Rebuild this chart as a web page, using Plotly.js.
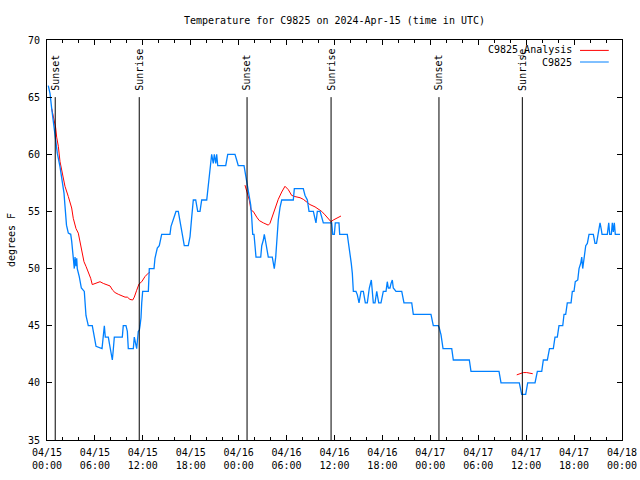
<!DOCTYPE html>
<html>
<head>
<meta charset="utf-8">
<script src="https://cdn.plot.ly/plotly-3.0.1.min.js"></script>
<style>html,body{margin:0;padding:0;background:#fff}#chart{width:640px;height:480px}</style>
</head>
<body>
<div id="chart"></div>
<script>
// Hours since 2024-04-15 00:00 UTC
const stationHours = [0.16,0.38,0.59,0.79,1.00,1.29,1.63,1.97,2.13,2.25,2.38,2.44,2.67,2.97,3.09,3.22,3.34,3.42,3.51,3.63,3.72,3.79,4.04,4.30,4.67,4.76,4.88,5.17,5.67,5.80,5.92,6.14,6.89,7.05,7.18,7.30,7.68,7.80,7.98,8.10,8.18,8.30,8.43,9.43,9.55,9.89,10.06,10.18,10.81,10.93,11.11,11.23,11.43,11.56,11.65,11.77,11.86,11.98,12.69,12.81,13.40,13.52,13.81,14.06,14.36,15.40,15.53,15.74,15.94,16.15,16.44,16.65,16.87,17.07,17.19,17.69,17.91,18.12,18.32,18.62,18.87,19.16,19.37,20.00,20.12,20.32,20.50,20.62,20.82,20.95,21.13,21.25,21.38,22.38,22.63,23.54,23.75,23.95,24.67,24.79,24.92,25.08,25.21,25.33,25.51,25.63,25.76,25.92,26.05,26.17,26.76,26.89,27.09,27.21,27.34,27.51,27.71,28.21,28.34,28.46,28.64,28.76,28.96,29.18,29.39,30.84,30.97,32.09,32.31,32.60,32.81,33.35,33.56,33.68,33.85,34.19,34.40,34.60,35.65,35.78,35.98,36.10,36.56,36.65,37.60,37.78,37.94,38.10,38.23,38.36,38.69,38.86,39.07,39.19,39.32,39.61,39.73,39.86,40.11,40.23,40.36,40.61,40.73,40.86,41.07,41.29,41.41,41.54,41.82,41.95,42.11,42.45,42.61,42.74,42.95,43.08,43.24,43.36,43.70,44.42,44.54,44.70,45.67,45.87,48.08,48.27,48.37,49.00,49.12,49.34,49.46,49.59,50.68,50.80,50.88,52.88,52.97,53.09,56.60,56.73,56.85,59.14,59.32,59.44,59.94,60.07,60.19,61.11,61.23,61.40,61.95,62.05,62.15,62.65,62.77,62.92,63.40,63.61,63.90,64.11,64.58,64.74,64.95,65.15,65.62,65.78,65.99,66.15,66.46,66.62,66.83,66.96,67.08,67.24,67.46,67.66,67.87,68.41,68.62,68.81,69.03,69.25,69.41,69.50,70.16,70.34,70.46,70.66,70.79,70.91,71.04,71.16,71.75];
const stationTemps = [66.0,65.3,64.0,63.0,61.9,60.1,58.9,57.5,56.6,55.5,54.7,53.8,53.1,53.0,52.4,51.5,50.6,50.0,51.0,50.2,50.9,50.0,49.3,48.3,48.0,47.0,45.9,45.0,45.0,44.5,44.0,43.2,43.0,44.0,45.0,44.0,44.0,43.5,42.9,42.4,42.0,42.9,44.0,44.0,45.0,45.0,44.5,43.0,43.0,44.0,43.5,43.0,44.5,44.6,45.0,45.7,47.0,48.0,48.0,50.0,50.0,50.9,51.8,52.0,53.0,53.0,53.7,54.1,54.5,55.0,55.0,54.25,53.4,52.6,52.0,52.0,52.8,54.5,56.0,56.0,55.0,55.0,56.0,56.0,56.9,57.75,59.1,60.0,59.2,60.0,59.2,60.0,59.0,59.0,60.0,60.0,59.5,59.0,59.0,58.5,57.9,57.3,56.7,56.15,55.56,54.5,53.0,53.0,52.0,51.0,51.0,52.0,52.5,53.0,52.5,51.9,51.0,51.0,50.46,50.0,51.0,52.5,54.25,55.36,56.0,56.0,57.0,57.0,56.4,56.0,55.0,55.0,54.5,54.0,55.0,55.0,54.5,54.0,54.0,53.0,53.0,54.0,54.0,53.0,53.0,52.2,51.3,50.46,49.6,48.0,48.0,47.7,47.0,47.7,48.0,48.0,47.5,47.0,47.0,47.7,48.3,49.0,48.1,47.0,47.0,48.0,47.5,47.0,47.0,47.5,48.0,48.0,48.85,48.3,48.3,48.7,49.0,48.3,48.0,48.0,47.5,47.0,47.0,46.0,46.0,45.3,45.0,45.0,44.8,44.2,43.6,43.0,43.0,42.44,42.0,42.0,41.56,41.0,41.0,40.5,40.0,40.0,39.5,39.0,39.0,39.5,40.0,40.0,40.5,41.0,41.0,41.5,42.0,42.0,42.6,43.0,43.0,44.0,44.0,45.0,45.0,46.0,46.0,47.0,47.0,48.0,48.0,48.85,49.0,50.0,50.46,51.0,50.0,51.0,52.0,52.2,53.0,53.0,52.2,52.2,53.1,54.0,53.4,53.0,53.0,54.0,53.0,53.0,54.0,53.2,54.0,53.0,53.0];

// Analysis series (null = gap)
const analysisHours = [0.59,0.79,1.09,1.21,1.42,1.63,1.97,2.25,2.67,3.09,3.29,3.63,3.92,4.22,4.42,4.63,4.88,5.17,5.47,5.67,6.01,6.64,7.05,7.48,7.89,8.23,8.52,8.93,9.35,9.77,10.06,10.39,10.73,10.93,11.23,11.52,11.86,12.27,12.69,12.90,
  18.0,
  24.79,25.08,25.33,25.55,25.83,26.26,26.58,27.09,27.71,27.92,28.26,28.55,28.96,29.39,29.80,30.22,30.64,31.05,31.68,32.09,32.52,32.93,33.56,33.97,34.40,34.81,35.22,35.56,35.85,36.19,36.48,36.81,
  48.0,
  58.82,59.23,59.64,60.07,60.48,60.82];
const analysisTemps = [64.0,63.3,62.3,61.5,60.7,59.35,58.3,57.2,56.3,55.3,54.4,53.5,53.1,52.06,51.3,50.6,50.2,49.7,49.15,48.6,48.7,48.85,48.7,48.56,48.48,48.1,47.9,47.75,47.6,47.5,47.5,47.3,47.25,47.5,48.1,48.65,48.85,49.3,49.6,49.7,
  null,
  57.3,56.6,56.0,55.1,55.0,54.5,54.2,54.0,53.8,53.96,54.7,55.3,56.06,56.7,57.2,56.9,56.4,56.3,56.2,56.06,55.85,55.6,55.4,55.2,55.0,54.7,54.4,54.1,54.25,54.4,54.5,54.6,
  null,
  40.7,40.8,40.9,40.9,40.85,40.8];

// Sunrise / sunset events (hours since 2024-04-15 00:00 UTC)
const sunHours = [1.03, 11.55, 25.05, 35.57, 49.08, 59.52];
const sunLabels = ["Sunset", "Sunrise", "Sunset", "Sunrise", "Sunset", "Sunrise"];

const seriesNames = ["C9825_Analysis", "C9825"];
const seriesColors = ["#ff0000", "#0080ff"];

const BASE = Date.UTC(2024, 3, 15, 0, 0, 0);
function pad(n, w) { return String(n).padStart(w || 2, "0"); }
function toDate(h) {
  const d = new Date(BASE + Math.round(h * 3600000));
  return d.getUTCFullYear() + "-" + pad(d.getUTCMonth() + 1) + "-" + pad(d.getUTCDate()) + " " +
    pad(d.getUTCHours()) + ":" + pad(d.getUTCMinutes()) + ":" + pad(d.getUTCSeconds());
}

const FONT = "DejaVu Sans Mono, Liberation Mono, monospace";

const traces = [
  {
    x: analysisHours.map(toDate), y: analysisTemps, type: "scatter", mode: "lines",
    name: seriesNames[0], line: { color: seriesColors[0], width: 1 }, connectgaps: false, showlegend: false
  },
  {
    x: stationHours.map(toDate), y: stationTemps, type: "scatter", mode: "lines",
    name: seriesNames[1], line: { color: seriesColors[1], width: 1.3 }, showlegend: false
  }
];

const shapes = sunHours.map(h => ({
  type: "line", xref: "x", yref: "y", x0: toDate(h), x1: toDate(h), y0: 35, y1: 65,
  line: { color: "#000000", width: 1 }
}));
const annotations = sunHours.map((h, i) => ({
  xref: "x", yref: "y", x: toDate(h), y: 65.4, text: sunLabels[i], textangle: -90,
  showarrow: false, xanchor: "center", yanchor: "bottom", xshift: 0,
  font: { family: FONT, size: 10, color: "#000" }
}));

// gnuplot-style key (text right-aligned, line sample to the right)
const keyY = [0.974, 0.945];
seriesNames.forEach((n, i) => {
  annotations.push({
    xref: "paper", yref: "paper", x: 0.9165, y: keyY[i], text: n, showarrow: false,
    xanchor: "right", yanchor: "middle", font: { family: FONT, size: 10, color: "#000" }
  });
  shapes.push({
    type: "line", xref: "paper", yref: "paper", x0: 0.927, x1: 0.977, y0: keyY[i], y1: keyY[i],
    line: { color: seriesColors[i], width: 1 }
  });
});

const layout = {
  width: 640, height: 480,
  margin: { l: 47, r: 18, t: 40, b: 40 },
  paper_bgcolor: "#ffffff", plot_bgcolor: "#ffffff",
  font: { family: FONT, size: 10, color: "#000" },
  title: {
    text: "Temperature for C9825 on 2024-Apr-15 (time in UTC)",
    x: 0.5, xref: "paper", y: 1 - 20 / 480, yref: "container", yanchor: "middle",
    font: { family: FONT, size: 10, color: "#000" }
  },
  xaxis: {
    type: "date",
    range: [toDate(0), toDate(72)],
    tickmode: "linear", tick0: toDate(0), dtick: 6 * 3600000,
    tickformat: "%m/%d<br>%H:%M",
    ticks: "inside", ticklen: 5, tickcolor: "#000", tickwidth: 1,
    minor: { dtick: 2 * 3600000, tick0: toDate(0), ticks: "inside", ticklen: 3, tickcolor: "#000", showgrid: false },
    showline: true, linecolor: "#000", linewidth: 1, mirror: "allticks",
    showgrid: false, zeroline: false, ticklabelstandoff: 3,
    tickfont: { family: FONT, size: 10, color: "#000" }
  },
  yaxis: {
    range: [35, 70], tickmode: "linear", tick0: 35, dtick: 5,
    ticks: "inside", ticklen: 5, tickcolor: "#000", tickwidth: 1,
    showline: true, linecolor: "#000", linewidth: 1, mirror: "allticks",
    showgrid: false, zeroline: false, ticklabelstandoff: 4,
    tickfont: { family: FONT, size: 10, color: "#000" },
    title: { text: "degrees F", standoff: 10, font: { family: FONT, size: 10, color: "#000" } }
  },
  shapes: shapes,
  annotations: annotations,
  showlegend: false
};

Plotly.newPlot("chart", traces, layout, { staticPlot: true, displayModeBar: false });
</script>
</body>
</html>
